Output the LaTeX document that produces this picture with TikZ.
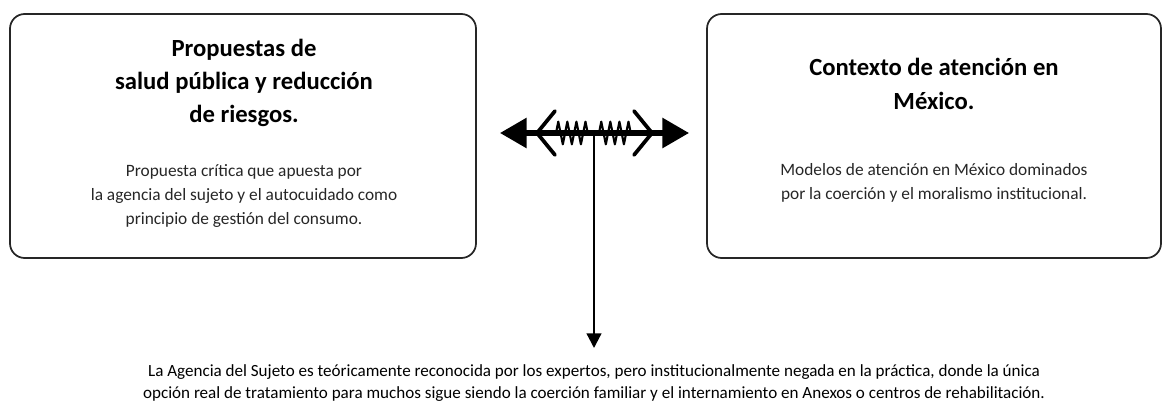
\documentclass[tikz,border=0pt]{standalone}
\usepackage{fontspec}
\setmainfont{Carlito}
\usetikzlibrary{arrows.meta,decorations.pathmorphing}
\begin{document}
\begin{tikzpicture}[x=0.75pt,y=-0.75pt,
  panel/.style={draw=black!85,line width=1.3pt,rounded corners=11pt},
  titletext/.style={align=center,font=\fontsize{18.5}{25}\selectfont\bfseries,inner sep=0pt},
  bodytext/.style={align=center,font=\fontsize{13}{18}\selectfont,inner sep=0pt,text=black!85},
  bottomtext/.style={align=center,font=\fontsize{12.8}{16.5}\selectfont,inner sep=0pt,text=black},
  spring/.style={decorate,decoration={zigzag,amplitude=8.5pt,segment length=6.8pt},line width=1.6pt,line join=round},
  chevron/.style={line width=2.8pt,line cap=round,line join=miter},
  bigarrow/.style={line width=3.8pt,-{Triangle[length=20pt,width=22pt]}},
  downarrow/.style={line width=1.7pt,-{Triangle[length=11pt,width=11pt]}}]
\useasboundingbox (0,0) rectangle (1162,403);
% boxes
\draw[panel] (10,14) rectangle (476,258);
\draw[panel] (707,14) rectangle (1161,258);
\node[titletext] (lt) at (244,83) {Propuestas de\\salud pública y reducción\\de riesgos.};
\node[bodytext] (lb) at (244,196) {Propuesta crítica que apuesta por\\la agencia del sujeto y el autocuidado como\\principio de gestión del consumo.};
\node[titletext] (rt) at (934,84) {Contexto de atención en\\México.};
\node[bodytext] (rb) at (934,183) {Modelos de atención en México dominados\\por la coerción y el moralismo institucional.};
\node[bottomtext] (bt) at (594,383) {La Agencia del Sujeto es teóricamente reconocida por los expertos, pero institucionalmente negada en la práctica, donde la única\\opción real de tratamiento para muchos sigue siendo la coerción familiar y el internamiento en Anexos o centros de rehabilitación.};
% central symbol
\coordinate (hub) at (594,133);
\coordinate (le) at (500,133);
\coordinate (re) at (689,133);
\coordinate (tip) at (594,348);
\draw[bigarrow] (hub) -- (le);
\draw[bigarrow] (hub) -- (re);
\draw[chevron] (555,111) -- (537,133) -- (555,155);
\draw[chevron] (634,111) -- (652,133) -- (634,155);
\draw[spring] (556,133) -- (590,133);
\draw[spring] (599,133) -- (633,133);
\draw[downarrow] (hub) -- (tip);
\end{tikzpicture}
\end{document}
